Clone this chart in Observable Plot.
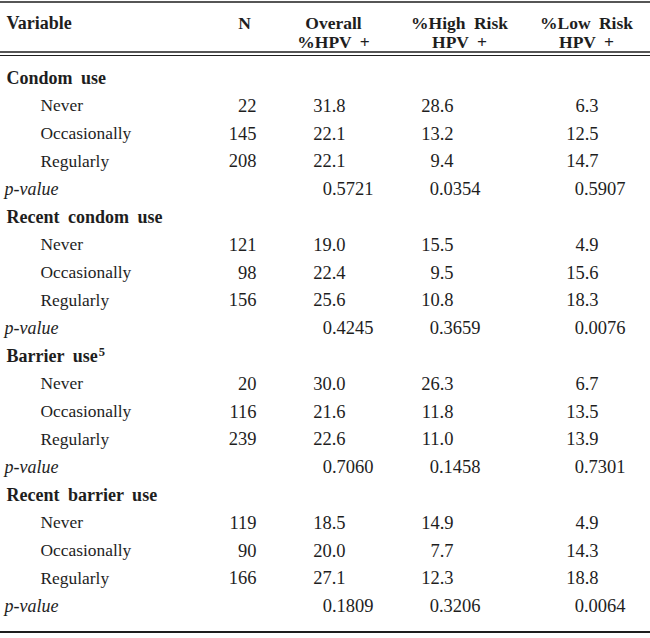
<!DOCTYPE html>
<html>
<head>
<meta charset="utf-8">
<script src="https://cdn.jsdelivr.net/npm/d3@7"></script>
<script src="https://cdn.jsdelivr.net/npm/@observablehq/plot@0.6"></script>
<style>
  html, body { margin: 0; padding: 0; background: #fff; }
  #chart svg { display: block; }
</style>
</head>
<body>
<div id="chart"></div>
<script>
// ---- data ----
const groups = ["Condom use", "Recent condom use", "Barrier use", "Recent barrier use"];
const groupNotes = ["", "", "5", ""];
const levels = ["Never", "Occasionally", "Regularly"];
const nValues = [[22, 145, 208], [121, 98, 156], [20, 116, 239], [119, 90, 166]];
const overallPct = [[31.8, 22.1, 22.1], [19.0, 22.4, 25.6], [30.0, 21.6, 22.6], [18.5, 20.0, 27.1]];
const highRiskPct = [[28.6, 13.2, 9.4], [15.5, 9.5, 10.8], [26.3, 11.8, 11.0], [14.9, 7.7, 12.3]];
const lowRiskPct = [[6.3, 12.5, 14.7], [4.9, 15.6, 18.3], [6.7, 13.5, 13.9], [4.9, 14.3, 18.8]];
const pOverall = ["0.5721", "0.4245", "0.7060", "0.1809"];
const pHigh = ["0.0354", "0.3659", "0.1458", "0.3206"];
const pLow = ["0.5907", "0.0076", "0.7301", "0.0064"];
const pLabel = "p-value";
const headerLine1 = ["N", "Overall", "%High Risk", "%Low Risk"];
const headerLine2 = ["", "%HPV +", "HPV +", "HPV +"];
const firstHeader = "Variable";

// ---- layout (positions & styles) ----
const W = 650, H = 638;
const L = {
  topRule: 1.5, head1: 22.5, head2: 41.5, dbl1: 51.5, dbl2: 55, bottomRule: 631.5,
  firstRow: 77.5, rowStep: 27.8,
  xLabel: 6, xIndent: 40, xP: 4,
  headX: [244, 333, 459, 586],
  valRight: [256, 345, 453, 598],
  pRight: [373, 480, 625]
};
const ink = "#1e1e1e";
const serif = "Liberation Serif, Times New Roman, serif";

// ---- build table rows ----
const labelRows = [], cellRows = [];
let r = 0;
groups.forEach((g, gi) => {
  labelRows.push({row: r++, text: g, note: groupNotes[gi], kind: "group"});
  levels.forEach((lv, li) => {
    labelRows.push({row: r, text: lv, kind: "level"});
    cellRows.push({row: r, col: 0, text: String(nValues[gi][li]), kind: "val"});
    cellRows.push({row: r, col: 1, text: overallPct[gi][li].toFixed(1), kind: "val"});
    cellRows.push({row: r, col: 2, text: highRiskPct[gi][li].toFixed(1), kind: "val"});
    cellRows.push({row: r, col: 3, text: lowRiskPct[gi][li].toFixed(1), kind: "val"});
    r++;
  });
  labelRows.push({row: r, text: pLabel, kind: "p"});
  [pOverall, pHigh, pLow].forEach((arr, k) => cellRows.push({row: r, col: k, text: arr[gi], kind: "p"}));
  r++;
});
const rowY = d => L.firstRow + d.row * L.rowStep;

const headerCells = headerLine1.map((t, i) => ({i, t1: t, t2: headerLine2[i]}));
const groupRows = labelRows.filter(d => d.kind === "group");

const plot = Plot.plot({
  width: W, height: H,
  margin: 0,
  x: {domain: [0, W], range: [0, W], axis: null},
  y: {domain: [0, H], range: [0, H], axis: null},
  style: {background: "#fff", color: ink},
  marks: [
    // rules
    Plot.ruleY([L.topRule], {stroke: ink, strokeWidth: 1.3}),
    Plot.ruleY([L.dbl1], {stroke: ink, strokeWidth: 1.6}),
    Plot.ruleY([L.dbl2], {stroke: ink, strokeWidth: 1.1}),
    Plot.ruleY([L.bottomRule], {stroke: ink, strokeWidth: 2}),
    // header
    Plot.text([firstHeader], {x: L.xLabel, y: L.head1, text: d => d, textAnchor: "start",
      fontWeight: "bold", fontSize: 18, fontFamily: serif, fill: ink}),
    Plot.text(headerCells, {x: d => L.headX[d.i], y: L.head1, text: "t1", textAnchor: "middle",
      fontWeight: "bold", fontSize: 17.5, fontFamily: serif, fill: ink}),
    Plot.text(headerCells.filter(d => d.t2), {x: d => L.headX[d.i], y: L.head2, text: "t2", textAnchor: "middle",
      fontWeight: "bold", fontSize: 17.5, fontFamily: serif, fill: ink}),
    // group labels
    Plot.text(groupRows, {x: L.xLabel, y: rowY, text: "text", textAnchor: "start",
      fontWeight: "bold", fontSize: 18, fontFamily: serif, fill: ink}),
    // level labels
    Plot.text(labelRows.filter(d => d.kind === "level"), {x: L.xIndent, y: rowY, text: "text", textAnchor: "start",
      fontSize: 17.4, fontFamily: serif, fill: ink}),
    // p-value labels
    Plot.text(labelRows.filter(d => d.kind === "p"), {x: L.xP, y: rowY, text: "text", textAnchor: "start",
      fontStyle: "italic", fontSize: 18, fontFamily: serif, fill: ink}),
    // values
    Plot.text(cellRows.filter(d => d.kind === "val"), {x: d => L.valRight[d.col], y: rowY, text: "text", textAnchor: "end",
      fontSize: 18.5, fontFamily: serif, fill: ink}),
    Plot.text(cellRows.filter(d => d.kind === "p"), {x: d => L.pRight[d.col], y: rowY, text: "text", textAnchor: "end",
      fontSize: 18.5, fontFamily: serif, fill: ink})
  ]
});

// wider word spacing for the bold (heading) texts, as in the typeset table
d3.select(plot).selectAll("g[font-weight=bold] text").style("word-spacing", "4px");
// footnote superscripts on group labels
d3.select(plot).selectAll("g[font-weight=bold] text").each(function () {
  const t = d3.select(this);
  const g = groupRows.find(d => d.text === t.text() && d.note);
  if (g) t.append("tspan").attr("dx", 1).attr("dy", -6).attr("font-size", 12.5).text(g.note);
});
document.getElementById("chart").appendChild(plot);
</script>
</body>
</html>
